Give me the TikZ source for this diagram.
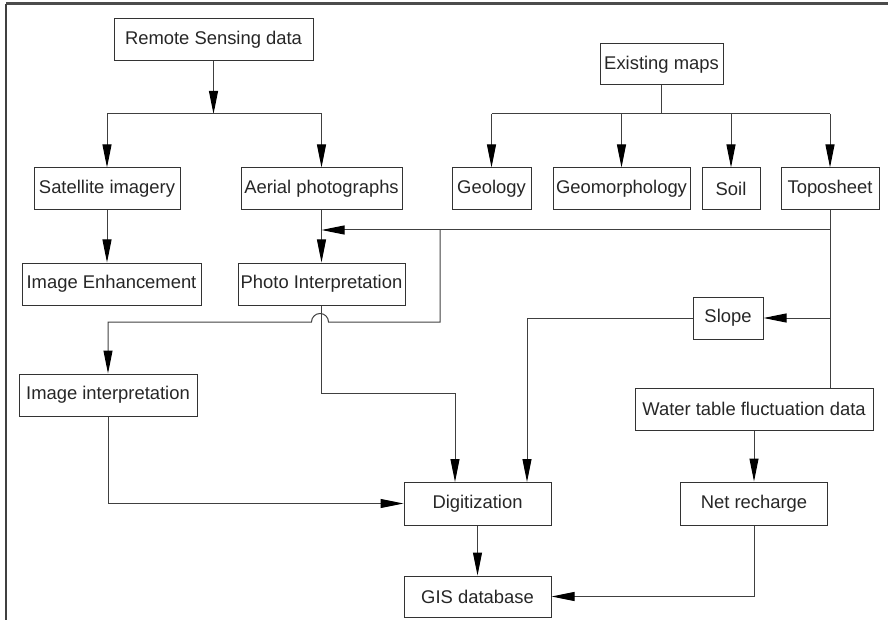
\documentclass[tikz,border=0pt]{standalone}
\usepackage{fontspec}
\setmainfont{Liberation Sans}
\usetikzlibrary{arrows.meta}

\begin{document}
\begin{tikzpicture}[x=1pt,y=-1pt,
        box/.style={draw=black!80,line width=1pt,minimum height=42pt,inner sep=0pt,
            font=\fontsize{18.4}{22}\selectfont,text=black!85},
        line/.style={draw=black!75,line width=1pt},
        arr/.style={line,-{Triangle[length=23pt,width=9pt,fill=black,color=black]}}]
        \useasboundingbox (0,0) rectangle (888,620);
        \draw[black!70,line width=3pt](6,4)--(888,4);
        \draw[black!75,line width=2pt](6,4)--(6,620);
        % boxes
        \node[box,minimum width=199pt](rs) at(213.5,40){Remote Sensing data};
        \node[box,minimum width=123pt,minimum height=41pt](em) at(661.5,64.5){Existing maps};
        \node[box,minimum width=146pt](sat) at(107,189){Satellite imagery};
        \node[box,minimum width=161pt](aer) at(321.5,189){Aerial photographs};
        \node[box,minimum width=79pt](geo) at(491.5,189){Geology};
        \node[box,minimum width=137pt](geom) at(621.5,189){Geomorphology};
        \node[box,minimum width=58pt](soil) at(731,189){Soil};
        \node[box,minimum width=98pt](topo) at(830,189){Toposheet};
        \node[box,minimum width=179pt](ie) at(111.5,284){Image Enhancement};
        \node[box,minimum width=167pt](pi) at(321.5,284){Photo Interpretation};
        \node[box,minimum width=70pt](slope) at(728,318){Slope};
        \node[box,minimum width=178pt](ii) at(108,395){Image interpretation};
        \node[box,minimum width=238pt](wt) at(754,409){Water table fluctuation data};
        \node[box,minimum width=147pt,minimum height=43pt](dig) at(477.5,503.5){Digitization};
        \node[box,minimum width=147pt,minimum height=43pt](nr) at(754,503.5){Net recharge};
        \node[box,minimum width=147pt,minimum height=41pt](gis) at(477.5,596.5){GIS database};
        % junctions
        \coordinate(rsj) at(213.5,114);
        \coordinate(emj) at(830,114);
        \coordinate(tj) at(830,230);
        \coordinate(hj) at(440,230);
        \coordinate(hk) at(440,322);
        \coordinate(sj) at(830,318);
        % remote sensing branch
        \draw[arr](rs)--(rsj);
        \draw[line](sat.north|-rsj)--(aer.north|-rsj);
        \draw[arr](sat.north|-rsj)--(sat.north);
        \draw[arr](aer.north|-rsj)--(aer.north);
        \draw[arr](sat)--(sat.south|-ie.north);
        \draw[arr](aer)--(pi);
        % existing maps branch
        \draw[line](em)--(em|-emj);
        \draw[line](geo.north|-emj)--(emj);
        \foreach \m in {geo,geom,soil,topo}
            \draw[arr](\m.north|-emj)--(\m.north);
        % toposheet
        \draw[line](topo)--(topo.south|-wt.north);
        \draw[arr](tj)--(aer.south|-tj);
        \draw[arr](sj)--(slope);
        \draw[arr](hj)--(hk)--(328.5,322)arc[start angle=0,end angle=-180,radius=8.5]
            --(ii.north|-hk)--(ii);
        % to digitization
        \draw[arr](pi)--(pi.south|-0,393)--(455,393)--(455,482);
        \draw[arr](slope)--(527,318)--(527,482);
        \draw[arr](ii)--(ii.south|-dig)--(dig);
        \draw[arr](wt)--(nr);
        \draw[arr](dig)--(gis);
        \draw[arr](nr)--(nr.south|-gis)--(gis);
    \end{tikzpicture}
\end{document}
